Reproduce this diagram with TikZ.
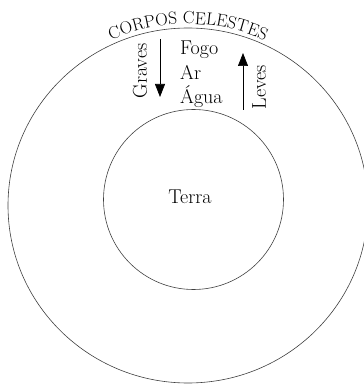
\documentclass[tikz,border=0pt]{standalone}
\usetikzlibrary{arrows.meta, decorations.text}

\begin{document}
\begin{tikzpicture}[x=1pt, y=1pt,
    ring/.style={draw=black!75, line width=0.6pt},
    elem/.style={font=\fontsize{20}{23}\selectfont, inner sep=0pt},
    motion/.style={line width=0.7pt, -{Triangle[width=10pt, length=13pt]}}]
    \useasboundingbox (0,0) rectangle (364,384);

    \coordinate (O) at (188,178.5);
    \coordinate (E) at (193.5,184.5);

    % spheres
    \draw[ring] (O) ellipse (180 and 177.5);
    \draw[ring] (E) circle (90);

    \path[decorate, decoration={text along path, text align=center,
        text={|\fontsize{17.5}{20}\selectfont|CORPOS CELESTES}}]
        ([shift={(140:184 and 181.5)}]O) arc (140:40:184 and 181.5);

    % elements
    \node[elem, anchor=base west] (fogo) at (180,330) {Fogo};
    \node[elem, anchor=base west] (ar)   at (180,305) {Ar};
    \node[elem, anchor=base west] (agua) at (180,280) {Água};
    \node[elem, anchor=base] (terra) at (190,180) {Terra};

    \node[elem, rotate=90, anchor=base] (graves) at (147,313) {Graves};
    \node[elem, rotate=90, anchor=base] (leves)  at (266,297) {Leves};

    \coordinate (gtop) at (160,345);
    \coordinate (gbot) at (160,287);
    \coordinate (lbot) at (243,274);
    \coordinate (ltop) at (243,331);
    \draw[motion] (gtop) -- (gbot);
    \draw[motion] (lbot) -- (ltop);
\end{tikzpicture}
\end{document}
